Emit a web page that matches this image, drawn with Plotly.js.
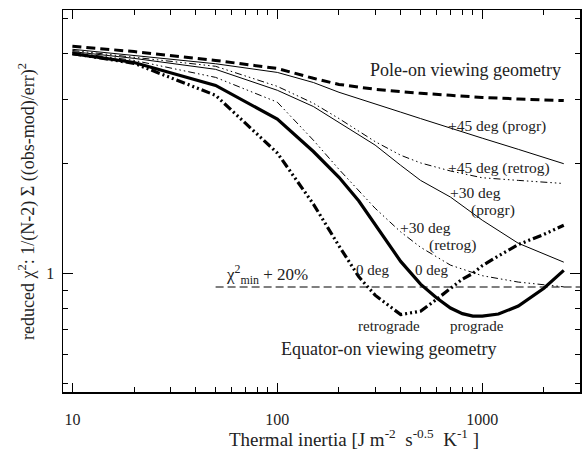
<!DOCTYPE html>
<html><head><meta charset="utf-8">
<script src="https://cdn.plot.ly/plotly-3.0.1.min.js"></script>
<style>html,body{margin:0;padding:0;background:#fff}</style>
</head><body>
<div id="chart" style="width:582px;height:450px"></div>
<script>
// Thermal inertia sample points
const inertiaX  = [10, 20, 50, 100, 150, 200, 300, 400, 500, 700, 1000, 1500, 2500];
const inertiaX0 = [10, 20, 50, 100, 150, 200, 250, 300, 400, 500, 600, 700, 800, 900, 1000, 1200, 1500, 2000, 2500];
// reduced chi^2 curves
const poleOn     = [4.20, 4.06, 3.84, 3.65, 3.43, 3.30, 3.20, 3.15, 3.12, 3.08, 3.04, 3.01, 2.98];
const p45Progr   = [4.12, 3.96, 3.76, 3.56, 3.34, 3.14, 2.91, 2.77, 2.66, 2.50, 2.35, 2.19, 2.00];
const p45Retrog  = [4.09, 3.91, 3.70, 3.26, 2.93, 2.66, 2.30, 2.11, 2.01, 1.91, 1.83, 1.80, 1.765];
const p30Progr   = [4.06, 3.89, 3.63, 3.18, 2.87, 2.60, 2.25, 1.98, 1.80, 1.62, 1.40, 1.21, 1.074];
const p30Retrog  = [4.04, 3.84, 3.45, 2.95, 2.32, 1.93, 1.51, 1.30, 1.18, 1.054, 0.986, 0.947, 0.919];
const zeroProgr  = [4.01, 3.79, 3.28, 2.65, 2.16, 1.835, 1.58, 1.367, 1.079, 0.935, 0.856, 0.804, 0.776, 0.764, 0.764, 0.774, 0.814, 0.911, 1.02];
const zeroRetrog = [4.01, 3.77, 3.08, 2.14, 1.55, 1.19, 0.979, 0.872, 0.771, 0.788, 0.85, 0.909, 0.965, 1.0, 1.05, 1.117, 1.20, 1.28, 1.356];
const thresholdX = [50, 3000];
const thresholdY = [0.918, 0.918];
// tick labels
const xTickVals = [10, 100, 1000];
const xTickText = ['10', '100', '1000'];
const xMinorVals = [20,30,40,50,60,70,80,90,200,300,400,500,600,700,800,900,2000];
const yTickVals = [1];
const yTickText = ['1'];
const yMinorVals = [0.5,0.6,0.7,0.8,0.9,2,3,4,5];

const SERIF = 'Liberation Serif, Times New Roman, serif';
const NB = '\u00A0';
const sp = n => NB.repeat(n);
const dashDots = (d, g, p) => [d, g, p, g, p, g, p, g].map(v => v + 'px').join(',');

const traces = [
  {x: inertiaX, y: poleOn, line: {color: '#000', width: 3, dash: '9px,5px'}},
  {x: inertiaX, y: p45Progr, line: {color: '#000', width: 1}},
  {x: inertiaX, y: p45Retrog, line: {color: '#000', width: 1, dash: dashDots(7, 3, 1.5)}},
  {x: inertiaX, y: p30Progr, line: {color: '#000', width: 1}},
  {x: inertiaX, y: p30Retrog, line: {color: '#000', width: 1, dash: dashDots(7, 3, 1.5)}},
  {x: inertiaX0, y: zeroProgr, line: {color: '#000', width: 3.2}},
  {x: inertiaX0, y: zeroRetrog, line: {color: '#000', width: 3.2, dash: dashDots(9, 3, 2)}},
  {x: thresholdX, y: thresholdY, line: {color: '#000', width: 1.2, dash: '8px,4px'}}
].map(t => Object.assign({type: 'scatter', mode: 'lines', hoverinfo: 'skip'}, t));

// pixel -> paper helper for text placement (plot area 63..580 x 10..392)
const P = (px, py) => ({x: (px - 63) / 517, y: (392 - py) / 382});
function lab(text, px, py, size, extra) {
  const p = P(px, py);
  return Object.assign({text: text, x: p.x, y: p.y, xref: 'paper', yref: 'paper',
    showarrow: false, xanchor: 'center', yanchor: 'middle',
    font: {family: SERIF, size: size, color: '#222'}}, extra || {});
}

const annotations = [
  lab('Pole-on viewing geometry', 465, 70, 18),
  lab('+45 deg (progr)', 497, 126, 15.5),
  lab('+45 deg (retrog)', 499, 168, 15.5),
  lab('+30 deg', 475, 192, 15.5),
  lab('(progr)', 493, 210, 15.5),
  lab('+30 deg', 425, 227, 15.5),
  lab('(retrog)', 452, 245, 15.5),
  lab('0 deg', 372, 270, 15),
  lab('0 deg', 431, 270, 15),
  lab('retrograde', 389, 326, 15),
  lab('prograde', 477, 326, 15),
  lab('Equator-on viewing geometry', 389, 349, 18),
  lab('χ<sup>2</sup><sub>min</sub> + 20%', 267, 274, 17),
  lab('Thermal inertia [J m<sup>-2</sup>' + sp(2) + 's<sup>-0.5</sup>' + sp(2) + 'K<sup>-1</sup>' + sp(1) + ']', 354, 438, 19),
  lab('reduced χ<sup>2</sup>: 1/(N-2) Σ ((obs-mod)/err)<sup>2</sup>', 27, 202, 18, {textangle: -90})
];

const axisCommon = {
  type: 'log', showgrid: false, zeroline: false, showline: true, linecolor: '#000', linewidth: 1.5,
  mirror: 'ticks', ticks: 'inside', tickcolor: '#000', tickwidth: 1,
  tickmode: 'array', tickfont: {family: SERIF, size: 16, color: '#222'}
};

const layout = {
  width: 582, height: 450,
  margin: {l: 63, r: 2, t: 10, b: 58},
  paper_bgcolor: '#fff', plot_bgcolor: '#fff',
  showlegend: false,
  xaxis: Object.assign({}, axisCommon, {
    range: [Math.log10(9), Math.log10(3000)],
    tickvals: xTickVals, ticktext: xTickText, ticklen: 9, ticklabelstandoff: 12,
    minor: {tickvals: xMinorVals, ticks: 'inside', ticklen: 5, tickcolor: '#000', tickwidth: 1}
  }),
  yaxis: Object.assign({}, axisCommon, {
    range: [Math.log10(0.473), Math.log10(5.28)],
    tickvals: yTickVals, ticktext: yTickText, ticklen: 10, ticklabelstandoff: 4,
    minor: {tickvals: yMinorVals, ticks: 'inside', ticklen: 5, tickcolor: '#000', tickwidth: 1}
  }),
  annotations: annotations
};

Plotly.newPlot('chart', traces, layout, {staticPlot: true, displayModeBar: false});
</script>
</body></html>
